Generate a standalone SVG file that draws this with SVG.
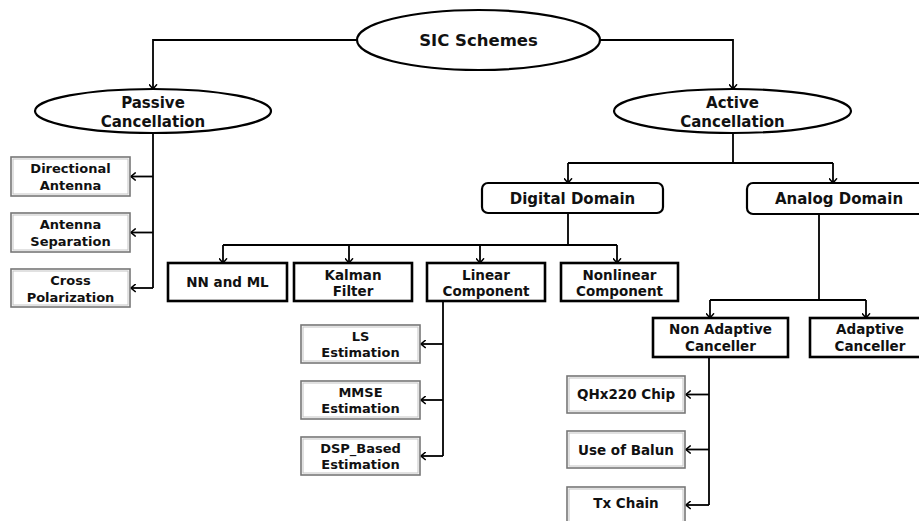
<svg xmlns="http://www.w3.org/2000/svg" width="919" height="521" viewBox="0 0 919 521">
<defs>
<style>
text{font-family:"DejaVu Sans","Liberation Sans",sans-serif;font-weight:bold;fill:#111;text-anchor:middle}
.t1{font-size:16.5px}
.t2{font-size:15px}
.t3{font-size:13.5px}
.t4{font-size:13px}
.ell{fill:#fff;stroke:#000;stroke-width:2.2}
.dom{fill:#fff;stroke:#000;stroke-width:2.2}
.box{fill:#fff;stroke:#000;stroke-width:2.6}
.leafo{fill:#fff;stroke:#777;stroke-width:1.6}
.leafi{fill:none;stroke:#c4c4c4;stroke-width:1}
.c{fill:none;stroke:#000;stroke-width:1.8}
.a{marker-end:url(#arr)}
</style>
<marker id="arr" viewBox="0 0 6 9" refX="5.2" refY="4.5" markerWidth="6" markerHeight="9" markerUnits="userSpaceOnUse" orient="auto">
<path d="M0.5,0.5 L5.2,4.5 L0.5,8.5" fill="none" stroke="#000" stroke-width="1.5"/>
</marker>
</defs>
<rect width="919" height="521" fill="#fff"/>

<g id="connectors">
<path class="c a" d="M357,40 H153 V89"/>
<path class="c a" d="M600,40 H733 V89"/>
<path class="c" d="M153,133 V288"/>
<path class="c a" d="M153,176.5 H131"/>
<path class="c a" d="M153,232.5 H131"/>
<path class="c a" d="M153,288 H131"/>
<path class="c" d="M733,133 V163 M568,163 H833"/>
<path class="c a" d="M568,163 V183"/>
<path class="c a" d="M833,163 V183"/>
<path class="c" d="M568,213 V245 M223,245 H617"/>
<path class="c a" d="M223,245 V263"/>
<path class="c a" d="M349,245 V263"/>
<path class="c a" d="M480,245 V263"/>
<path class="c a" d="M617,245 V263"/>
<path class="c" d="M443,301 V456"/>
<path class="c a" d="M443,344 H421"/>
<path class="c a" d="M443,400 H421"/>
<path class="c a" d="M443,456 H421"/>
<path class="c" d="M819,214 V300 M710,300 H866"/>
<path class="c a" d="M710,300 V318"/>
<path class="c a" d="M866,300 V318"/>
<path class="c" d="M709,357 V505"/>
<path class="c a" d="M709,394.5 H686"/>
<path class="c a" d="M709,449.5 H686"/>
<path class="c a" d="M709,505 H686"/>
</g>

<g id="sic-schemes">
<ellipse class="ell" cx="478.5" cy="40" rx="121.5" ry="30"/>
<text class="t1" x="478.5" y="46">SIC Schemes</text>
</g>

<g id="passive-cancellation">
<ellipse class="ell" cx="153" cy="111" rx="118" ry="22"/>
<text class="t2" x="153" y="108">Passive</text>
<text class="t2" x="153" y="127">Cancellation</text>
</g>

<g id="active-cancellation">
<ellipse class="ell" cx="732.5" cy="111" rx="118.5" ry="22"/>
<text class="t2" x="732.5" y="108">Active</text>
<text class="t2" x="732.5" y="127">Cancellation</text>
</g>

<g id="directional-antenna">
<rect class="leafo" x="11" y="157" width="119" height="39"/>
<rect class="leafi" x="13" y="159" width="115" height="35"/>
<text class="t4" x="70.5" y="173">Directional</text>
<text class="t4" x="70.5" y="190">Antenna</text>
</g>

<g id="antenna-separation">
<rect class="leafo" x="11" y="213" width="119" height="39"/>
<rect class="leafi" x="13" y="215" width="115" height="35"/>
<text class="t4" x="70.5" y="229">Antenna</text>
<text class="t4" x="70.5" y="246">Separation</text>
</g>

<g id="cross-polarization">
<rect class="leafo" x="11" y="269" width="119" height="38"/>
<rect class="leafi" x="13" y="271" width="115" height="34"/>
<text class="t4" x="70.5" y="285">Cross</text>
<text class="t4" x="70.5" y="302">Polarization</text>
</g>

<g id="digital-domain">
<rect class="dom" x="482" y="183" width="181" height="30" rx="6"/>
<text class="t2" x="572.5" y="204">Digital Domain</text>
</g>

<g id="analog-domain">
<rect class="dom" x="747" y="183" width="185" height="31" rx="6"/>
<text class="t2" x="839" y="204">Analog Domain</text>
</g>

<g id="nn-ml">
<rect class="box" x="168" y="263" width="119" height="38"/>
<text class="t3" x="227.5" y="287">NN and ML</text>
</g>

<g id="kalman-filter">
<rect class="box" x="294" y="263" width="118" height="38"/>
<text class="t3" x="353" y="280">Kalman</text>
<text class="t3" x="353" y="296">Filter</text>
</g>

<g id="linear-component">
<rect class="box" x="427" y="263" width="118" height="38"/>
<text class="t3" x="486" y="280">Linear</text>
<text class="t3" x="486" y="296">Component</text>
</g>

<g id="nonlinear-component">
<rect class="box" x="561" y="263" width="117" height="38"/>
<text class="t3" x="619.5" y="280">Nonlinear</text>
<text class="t3" x="619.5" y="296">Component</text>
</g>

<g id="ls-estimation">
<rect class="leafo" x="301" y="325" width="119" height="38"/>
<rect class="leafi" x="303" y="327" width="115" height="34"/>
<text class="t4" x="360.5" y="341">LS</text>
<text class="t4" x="360.5" y="357">Estimation</text>
</g>

<g id="mmse-estimation">
<rect class="leafo" x="301" y="381" width="119" height="38"/>
<rect class="leafi" x="303" y="383" width="115" height="34"/>
<text class="t4" x="360.5" y="397">MMSE</text>
<text class="t4" x="360.5" y="413">Estimation</text>
</g>

<g id="dsp-estimation">
<rect class="leafo" x="301" y="437" width="119" height="38"/>
<rect class="leafi" x="303" y="439" width="115" height="34"/>
<text class="t4" x="360.5" y="453">DSP_Based</text>
<text class="t4" x="360.5" y="469">Estimation</text>
</g>

<g id="non-adaptive-canceller">
<rect class="box" x="653" y="318" width="135" height="39"/>
<text class="t3" x="720.5" y="334">Non Adaptive</text>
<text class="t3" x="720.5" y="351">Canceller</text>
</g>

<g id="adaptive-canceller">
<rect class="box" x="810" y="318" width="125" height="39"/>
<text class="t3" x="870" y="334">Adaptive</text>
<text class="t3" x="870" y="351">Canceller</text>
</g>

<g id="qhx220-chip">
<rect class="leafo" x="567" y="376" width="118" height="37"/>
<rect class="leafi" x="569" y="378" width="114" height="33"/>
<text class="t3" x="626" y="399">QHx220 Chip</text>
</g>

<g id="use-of-balun">
<rect class="leafo" x="567" y="431" width="118" height="37"/>
<rect class="leafi" x="569" y="433" width="114" height="33"/>
<text class="t3" x="626" y="455">Use of Balun</text>
</g>

<g id="tx-chain">
<rect class="leafo" x="567" y="487" width="118" height="40"/>
<rect class="leafi" x="569" y="489" width="114" height="36"/>
<text class="t3" x="626" y="508">Tx Chain</text>
</g>
</svg>
